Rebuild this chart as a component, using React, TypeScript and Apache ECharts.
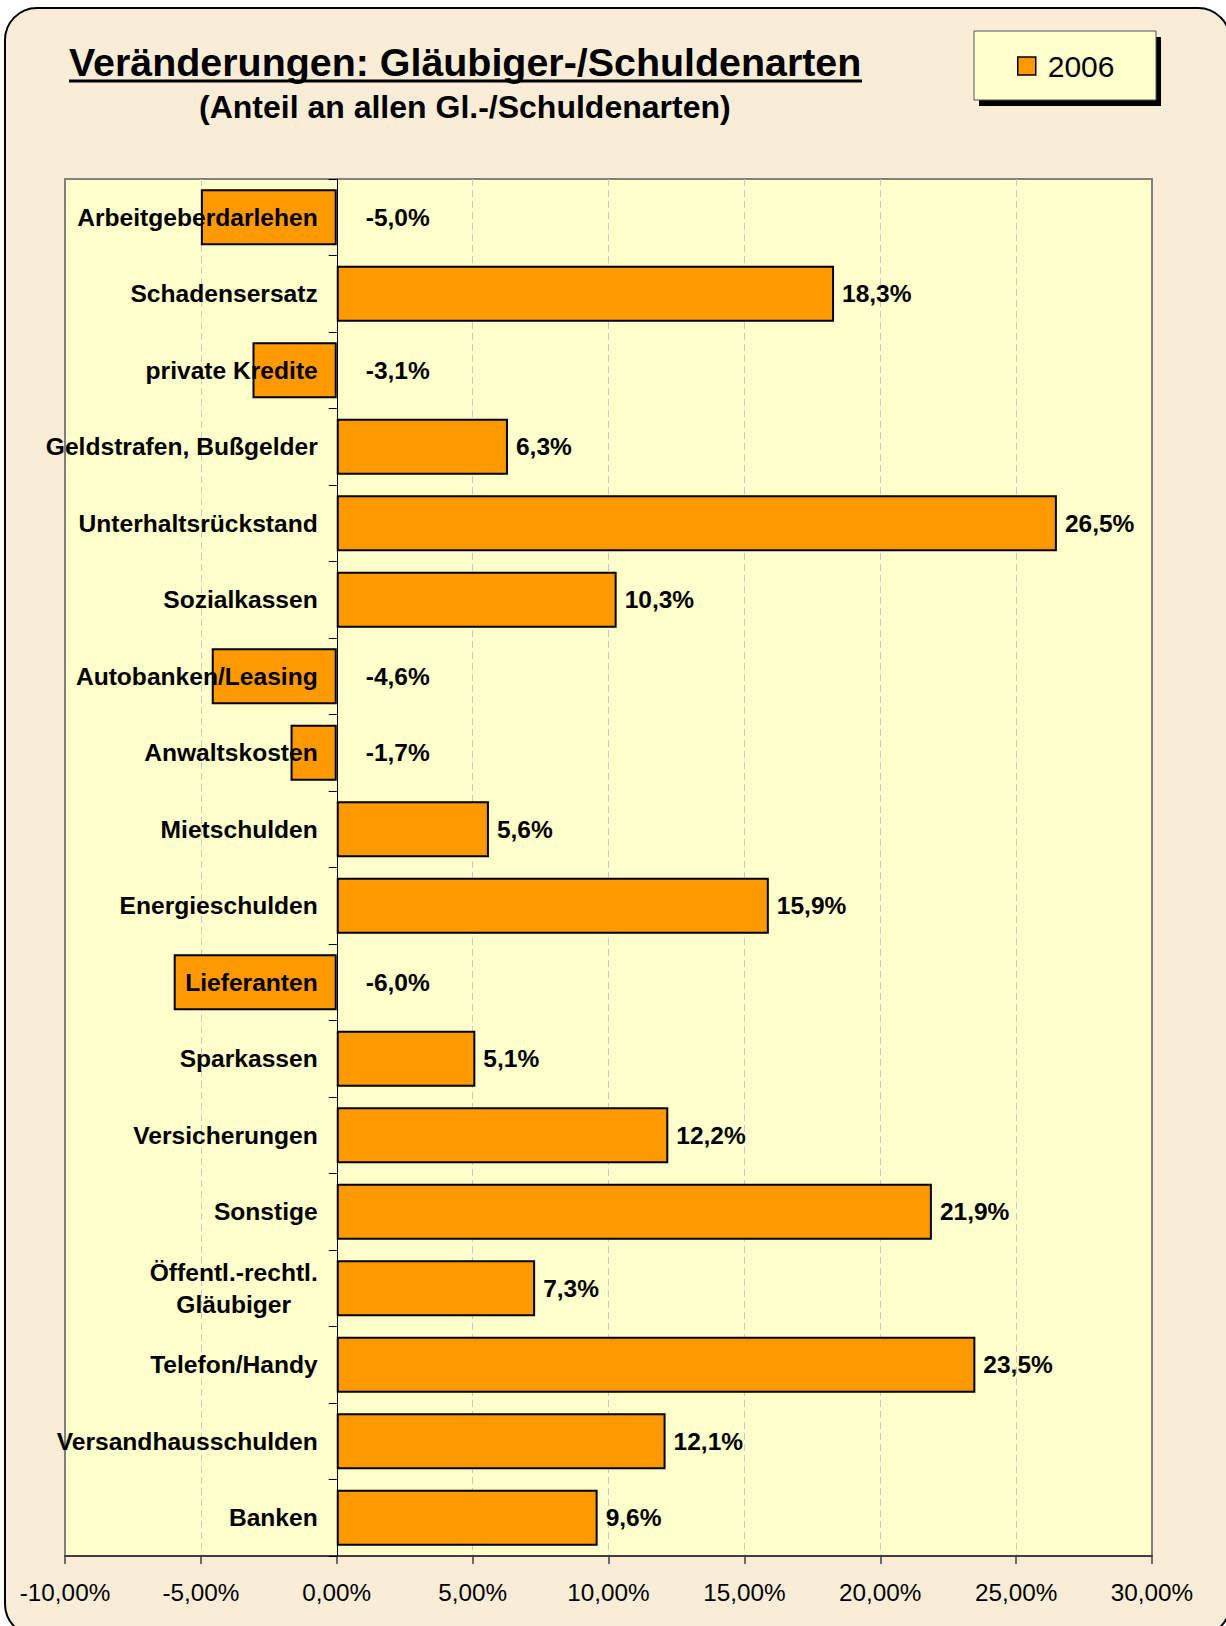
import React, { useEffect, useRef } from "react";
import * as echarts from "echarts";

const categories: string[] = [
  "Arbeitgeberdarlehen",
  "Schadensersatz",
  "private Kredite",
  "Geldstrafen, Bußgelder",
  "Unterhaltsrückstand",
  "Sozialkassen",
  "Autobanken/Leasing",
  "Anwaltskosten",
  "Mietschulden",
  "Energieschulden",
  "Lieferanten",
  "Sparkassen",
  "Versicherungen",
  "Sonstige",
  "Öffentl.-rechtl.\nGläubiger",
  "Telefon/Handy",
  "Versandhausschulden",
  "Banken",
];

const values2006: number[] = [
  -5.0, 18.3, -3.1, 6.3, 26.5, 10.3, -4.6, -1.7, 5.6, 15.9, -6.0, 5.1, 12.2,
  21.9, 7.3, 23.5, 12.1, 9.6,
];

const seriesName = "2006";
const xTickValues: number[] = [-10, -5, 0, 5, 10, 15, 20, 25, 30];

const titleText = "Veränderungen: Gläubiger-/Schuldenarten";
const subtitleText = "(Anteil an allen Gl.-/Schuldenarten)";

const FONT = "'Liberation Sans', Arial, sans-serif";
const GRID_LEFT = 65;

export default function App() {
  const ref = useRef<HTMLDivElement>(null);

  useEffect(() => {
    if (!ref.current) return;
    const chart = echarts.init(ref.current, undefined, {
      renderer: "svg",
      width: 1226,
      height: 1626,
    });

    const fmtPct1 = (v: number) => v.toFixed(1).replace(".", ",") + "%";
    const fmtPct2 = (v: number) => v.toFixed(2).replace(".", ",") + "%";

    const barData = values2006.map((v) => ({
      value: v,
      label: { distance: v < 0 ? 29 : 8 },
    }));

    const option: any = {
      animation: false,
      backgroundColor: "transparent",
      title: [
        {
          text: titleText,
          left: 69,
          top: 42,
          padding: 0,
          textStyle: {
            fontFamily: FONT,
            fontSize: 39.4,
            fontWeight: "bold",
            color: "#000",
            lineHeight: 40,
          },
        },
        {
          text: subtitleText,
          left: 199,
          top: 91,
          padding: 0,
          textStyle: {
            fontFamily: FONT,
            fontSize: 32,
            fontWeight: "bold",
            color: "#000",
            lineHeight: 32,
          },
        },
      ],
      legend: {
        data: [seriesName],
        left: 1017,
        top: 51,
        padding: 0,
        icon: "rect",
        itemWidth: 18,
        itemHeight: 18,
        itemStyle: { color: "#FF9900", borderColor: "#000", borderWidth: 1.5 },
        textStyle: {
          fontFamily: FONT,
          fontSize: 30,
          color: "#000",
          padding: [0, 0, 0, 7],
        },
        z: 10,
      },
      graphic: [
        {
          type: "rect",
          z: -10,
          silent: true,
          shape: { x: 5, y: 8, width: 1225, height: 1628, r: 32 },
          style: { fill: "#FAEDD7", stroke: "#000", lineWidth: 2 },
        },
        {
          type: "line",
          z: 5,
          silent: true,
          shape: { x1: 69, y1: 81, x2: 862, y2: 81 },
          style: { stroke: "#000", lineWidth: 3 },
        },
        {
          type: "rect",
          z: 1,
          silent: true,
          shape: { x: 979, y: 37, width: 182, height: 69 },
          style: { fill: "#000" },
        },
        {
          type: "rect",
          z: 2,
          silent: true,
          shape: { x: 974, y: 31, width: 182, height: 69 },
          style: { fill: "#FFFFCC", stroke: "#555", lineWidth: 1 },
        },
      ],
      grid: {
        left: GRID_LEFT,
        top: 179,
        width: 1087,
        height: 1377,
        containLabel: false,
        outerBoundsMode: "none",
        show: true,
        backgroundColor: "#FFFFCC",
        borderColor: "#808080",
        borderWidth: 2,
      },
      xAxis: {
        type: "value",
        min: xTickValues[0],
        max: xTickValues[xTickValues.length - 1],
        interval: xTickValues[1] - xTickValues[0],
        position: "bottom",
        axisLine: {
          show: true,
          onZero: false,
          lineStyle: { color: "#404040", width: 2 },
        },
        axisTick: {
          show: true,
          length: 8,
          lineStyle: { color: "#404040", width: 1.5 },
        },
        axisLabel: {
          formatter: (v: number) => fmtPct2(v),
          fontFamily: FONT,
          fontSize: 24.3,
          color: "#000",
          margin: 24,
        },
        splitLine: {
          show: true,
          showMinLine: false,
          showMaxLine: false,
          lineStyle: { color: "#C8C8C8", width: 1, type: [7, 4] },
        },
      },
      yAxis: {
        type: "category",
        data: categories,
        inverse: true,
        position: "left",
        offset: 0,
        z: 10,
        axisLine: {
          show: true,
          onZero: false,
          lineStyle: { color: "#000", width: 1 },
        },
        axisTick: {
          show: true,
          length: 8,
          lineStyle: { color: "#000", width: 1 },
        },
        axisLabel: {
          margin: 19,
          fontFamily: FONT,
          fontSize: 24.6,
          fontWeight: "bold",
          color: "#000",
          formatter: (v: string) =>
            v.indexOf("\n") >= 0
              ? v
                  .split("\n")
                  .map((l) => "{c|" + l + "}")
                  .join("\n")
              : v,
          rich: {
            c: {
              align: "center",
              fontFamily: FONT,
              fontSize: 24.6,
              fontWeight: "bold",
              color: "#000",
              lineHeight: 32,
            },
          },
        },
        splitLine: { show: false },
      },
      series: [
        {
          name: seriesName,
          type: "bar",
          data: barData,
          barWidth: 56,
          itemStyle: { color: "#FF9900", borderColor: "#000", borderWidth: 2 },
          label: {
            show: true,
            position: "right",
            fontFamily: FONT,
            fontSize: 24.5,
            fontWeight: "bold",
            color: "#000",
            formatter: (p: any) => fmtPct1(p.value),
          },
        },
      ],
    };

    chart.setOption(option);
    // Move the category axis (line, ticks and labels) onto the zero value of the x scale.
    const zeroX = chart.convertToPixel({ xAxisIndex: 0 }, 0) as number;
    if (typeof zeroX === "number" && isFinite(zeroX)) {
      chart.setOption({ yAxis: { offset: GRID_LEFT - zeroX } });
    }
    return () => chart.dispose();
  }, []);

  return (
    <div
      style={{
        position: "fixed",
        left: 0,
        top: 0,
        width: 1226,
        height: 1626,
        background: "#fff",
        overflow: "hidden",
      }}
    >
      <div ref={ref} style={{ width: 1226, height: 1626 }} />
    </div>
  );
}
